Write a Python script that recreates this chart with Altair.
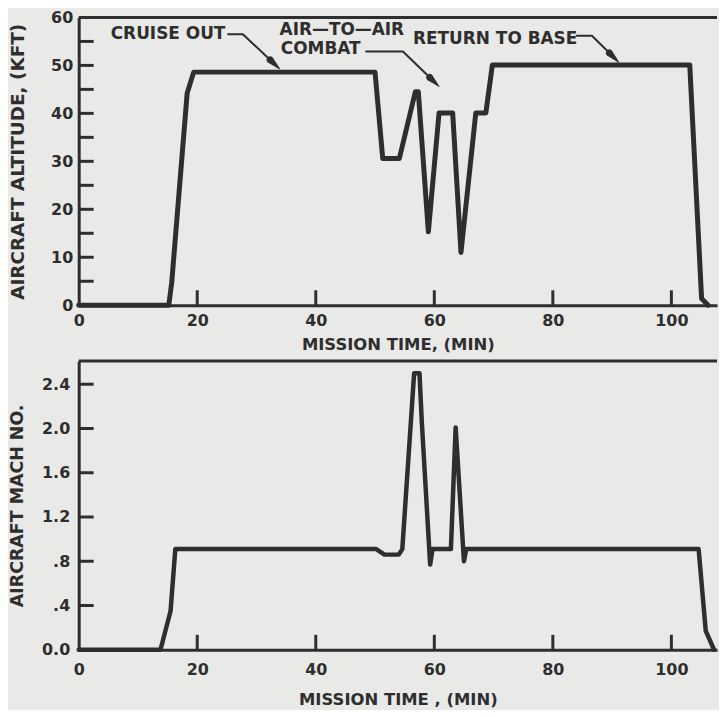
import math
import altair as alt
import pandas as pd

INK = "#2e2e2e"
BG = "#e9e9e7"
FONT = "DejaVu Sans"

XMAX = 107.7
W = 641
H_TOP = 289
H_BOT = 290

# ---- data ----
alt_time = [0, 15.2, 15.7, 18.3, 19.4, 50.0, 51.3, 54.1, 56.8, 57.3, 59.0, 60.8,
            63.1, 64.5, 67.0, 68.7, 69.8, 103.1, 105.1, 106.2]
alt_kft = [0, 0, 4.8, 44.2, 48.6, 48.6, 30.6, 30.6, 44.5, 44.5, 15.3, 40.1,
           40.1, 11.0, 40.1, 40.1, 50.1, 50.1, 1.4, 0]

mach_time = [0, 13.8, 15.5, 16.3, 50.2, 51.6, 54.0, 54.6, 56.6, 57.5, 57.9, 59.3,
             59.7, 62.8, 63.6, 65.0, 65.4, 104.6, 105.8, 107.2]
mach_val = [0, 0, 0.35, 0.91, 0.91, 0.86, 0.86, 0.91, 2.50, 2.50, 2.05, 0.77,
            0.91, 0.91, 2.01, 0.80, 0.91, 0.91, 0.17, 0]

x_tick_values = [0, 20, 40, 60, 80, 100]
x_inner_ticks = [20, 40, 60, 80, 100]
alt_tick_values = [0, 5, 10, 15, 20, 25, 30, 35, 40, 45, 50, 55, 60]
alt_inner_ticks = [5, 10, 15, 20, 25, 30, 35, 40, 45, 50, 55]
mach_tick_values = [0, 0.4, 0.8, 1.2, 1.6, 2.0, 2.4]
mach_inner_ticks = [0.4, 0.8, 1.2, 1.6, 2.0, 2.4]

note_text = ["CRUISE OUT", "AIR\u2014TO\u2014AIR", "COMBAT", "RETURN TO BASE"]
note_x = [5.4, 33.9, 34.1, 56.4]
note_y = [56.5, 57.4, 53.5, 55.6]

# leader lines: start, corner, arrow tip (minutes, kft)
leader_start_x = [25.2, 48.5, 84.0]
leader_start_y = [56.5, 52.9, 56.2]
leader_corner_x = [27.7, 54.7, 86.6]
leader_corner_y = [56.5, 52.9, 56.2]
leader_tip_x = [33.9, 60.8, 91.1]
leader_tip_y = [49.3, 45.6, 50.7]

HEAD_LEN = 13.0   # px
HEAD_W = 7.0      # px
LEAD_W = 2.0      # px

# ---- tables ----
alt_df = pd.DataFrame({"t": alt_time, "v": alt_kft})
mach_df = pd.DataFrame({"t": mach_time, "v": mach_val})
notes_df = pd.DataFrame({"label": note_text, "t": note_x, "v": note_y})
one_df = pd.DataFrame({"k": [0]})

px_x = W / XMAX
px_y = H_TOP / 60.0
rows = []
for i in range(3):
    sx, sy = leader_start_x[i], leader_start_y[i]
    cx, cy = leader_corner_x[i], leader_corner_y[i]
    tx, ty = leader_tip_x[i], leader_tip_y[i]
    seg = math.hypot((tx - cx) * px_x, (ty - cy) * px_y)
    fb = 1 - HEAD_LEN / seg
    fn = 1 - (HEAD_LEN + 0.6) / seg
    pts = [(sx, sy, LEAD_W), (cx, cy, LEAD_W),
           (cx + fn * (tx - cx), cy + fn * (ty - cy), LEAD_W),
           (cx + fb * (tx - cx), cy + fb * (ty - cy), HEAD_W),
           (tx, ty, 0.0)]
    for j, (x, y, w) in enumerate(pts):
        rows.append({"id": i, "o": j, "t": x, "v": y, "w": w})
lead_df = pd.DataFrame(rows)

xscale = alt.Scale(domain=[0, XMAX], nice=False, zero=False)


def panel(df, yscale, yaxis, xaxis, inner_y, h, stroke_w):
    line = alt.Chart(df).mark_line(
        color=INK, strokeWidth=stroke_w, strokeJoin="round", strokeCap="round"
    ).encode(
        x=alt.X("t:Q", scale=xscale, axis=xaxis),
        y=alt.Y("v:Q", scale=yscale, axis=yaxis),
        order="t:Q",
    )
    yt = alt.Chart(pd.DataFrame({"v": inner_y})).mark_rule(
        color=INK, strokeWidth=3
    ).encode(y=alt.Y("v:Q"), x=alt.value(0), x2=alt.value(15))
    xt = alt.Chart(pd.DataFrame({"t": x_inner_ticks})).mark_rule(
        color=INK, strokeWidth=3
    ).encode(x=alt.X("t:Q"), y=alt.value(h), y2=alt.value(h - 15))
    top = alt.Chart(one_df).mark_rule(color=INK, strokeWidth=3).encode(
        x=alt.value(0), x2=alt.value(W), y=alt.value(0)
    )
    return [line, yt, xt, top]


top_x_axis = alt.Axis(values=x_tick_values, format="d", labelFlush=False, labelOverlap=False,
                      labelPadding=7, title="MISSION TIME, (MIN)", titlePadding=8)
alt_axis = alt.Axis(values=alt_tick_values, labelPadding=6, labelOverlap=False,
                    title="AIRCRAFT ALTITUDE, (KFT)", titlePadding=23, titleFontSize=18.5)
top_layers = panel(alt_df, alt.Scale(domain=[0, 60], nice=False), alt_axis, top_x_axis,
                   alt_inner_ticks, H_TOP, 5)

leaders = alt.Chart(lead_df).mark_trail(color=INK, opacity=1).encode(
    x=alt.X("t:Q"), y=alt.Y("v:Q"), detail="id:N", order="o:Q",
    size=alt.Size("w:Q", scale=None, legend=None),
)
notes = alt.Chart(notes_df).mark_text(
    align="left", baseline="middle", font=FONT, fontSize=17, fontWeight="bold", color=INK
).encode(x=alt.X("t:Q"), y=alt.Y("v:Q"), text="label:N")

top_chart = alt.layer(*top_layers, leaders, notes).properties(width=W, height=H_TOP)

bot_x_axis = alt.Axis(values=x_tick_values, format="d", labelFlush=False, labelOverlap=False,
                      labelPadding=12, title="MISSION TIME , (MIN)", titlePadding=14)
mach_axis = alt.Axis(
    values=mach_tick_values, labelPadding=9, labelOverlap=False,
    title="AIRCRAFT MACH NO.", titlePadding=15, titleFontSize=17.5,
    labelExpr="datum.value == 0 ? '0.0' : (datum.value < 1 ? '.' + format(datum.value * 10, 'd') : format(datum.value, '.1f'))",
)
bot_layers = panel(mach_df, alt.Scale(domain=[0, 2.61], nice=False), mach_axis, bot_x_axis,
                   mach_inner_ticks, H_BOT, 4.5)
bot_chart = alt.layer(*bot_layers).properties(width=W, height=H_BOT)

chart = alt.vconcat(top_chart, bot_chart, spacing=6).properties(
    padding={"left": 0, "top": 0, "right": 0, "bottom": 0}
).configure(background=BG).configure_view(strokeWidth=0).configure_axis(
    grid=False, tickSize=0, domainColor=INK, domainWidth=3,
    labelFont=FONT, labelFontSize=16, labelFontWeight="bold", labelColor=INK,
    titleFont=FONT, titleFontWeight="bold", titleColor=INK,
).configure_axisX(titleFontSize=16.5)

chart.save("out.html", embed_options={"renderer": "svg", "actions": False})
